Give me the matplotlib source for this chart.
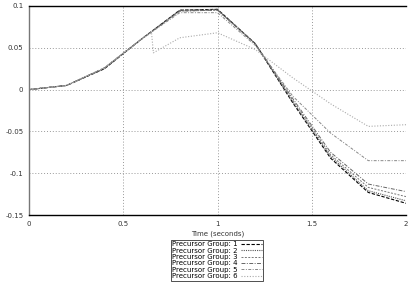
import matplotlib
matplotlib.use("Agg")
import matplotlib.pyplot as plt

t = [0.0, 0.2, 0.4, 0.6, 0.8, 1.0, 1.2, 1.4, 1.6, 1.8, 2.0]
g1 = [0.0, 0.005, 0.025, 0.061, 0.095, 0.096, 0.055, -0.016, -0.082, -0.123, -0.136]
g2 = [0.0, 0.005, 0.025, 0.061, 0.095, 0.096, 0.055, -0.015, -0.080, -0.121, -0.133]
g3 = [0.0, 0.005, 0.026, 0.061, 0.094, 0.095, 0.055, -0.013, -0.078, -0.117, -0.128]
g4 = [0.0, 0.005, 0.026, 0.061, 0.094, 0.095, 0.055, -0.011, -0.075, -0.113, -0.122]
g5 = [0.0, 0.005, 0.026, 0.061, 0.092, 0.092, 0.053, -0.008, -0.052, -0.085, -0.085]
t6 = [0.0, 0.2, 0.4, 0.6, 0.65, 0.66, 0.8, 1.0, 1.2, 1.4, 1.6, 1.8, 2.0]
g6 = [0.0, 0.005, 0.026, 0.061, 0.068, 0.044, 0.062, 0.068, 0.048, 0.014, -0.017, -0.044, -0.042]

labels = ["Precursor Group: %d" % i for i in range(1, 7)]
xticks = [0, 0.5, 1, 1.5, 2]
yticks = [-0.15, -0.1, -0.05, 0, 0.05, 0.1]
xticklabels = ["0", "0.5", "1", "1.5", "2"]
yticklabels = ["-0.15", "-0.1", "-0.05", "0", "0.05", "0.1"]

plt.rcParams['font.family'] = ['DejaVu Sans']
fig = plt.figure(figsize=(4.08, 2.84), dpi=100)
ax = fig.add_axes([29/408, 1-215/284, 377/408, 209/284])

styles = [
    dict(color="#000000", ls=(0, (3, 1.5)), lw=0.8),
    dict(color="#555555", ls=(0, (1, 1)), lw=0.8),
    dict(color="#777777", ls=(0, (2, 1.5)), lw=0.7),
    dict(color="#666666", ls=(0, (4, 1.5, 1, 1.5)), lw=0.7),
    dict(color="#888888", ls=(0, (3, 1.5, 1, 1.5)), lw=0.7),
    dict(color="#aaaaaa", ls=(0, (1, 1.5)), lw=0.8),
]
series = [(t, g1), (t, g2), (t, g3), (t, g4), (t, g5), (t6, g6)]
for (xs, ys), st, lab in zip(series, styles, labels):
    ax.plot(xs, ys, label=lab, **st)

ax.set_xlim(0, 2)
ax.set_ylim(-0.15, 0.1)
ax.set_xticks(xticks)
ax.set_xticklabels(xticklabels)
ax.set_yticks(yticks)
ax.set_yticklabels(yticklabels)
ax.tick_params(length=0, labelsize=5, colors="#333333", pad=4)
ax.grid(True, color="#999999", ls=(0, (1, 2)), lw=0.7)
ax.spines['top'].set_color('black')
ax.spines['top'].set_linewidth(1.0)
ax.spines['bottom'].set_color('black')
ax.spines['bottom'].set_linewidth(1.0)
ax.spines['left'].set_color('#777777')
ax.spines['left'].set_linewidth(1.0)
ax.spines['right'].set_visible(False)
ax.set_xlabel("Time (seconds)", fontsize=5, color="#333333", labelpad=3)

leg = fig.legend(loc='upper center', bbox_to_anchor=(217/408, 1-240/284),
                 fontsize=5, markerfirst=False, frameon=True, fancybox=False,
                 edgecolor='black', handlelength=3, labelspacing=0.05,
                 borderpad=0.2, handletextpad=0.5, borderaxespad=0)
leg.get_frame().set_linewidth(0.6)

fig.savefig("out.png", dpi=100)
